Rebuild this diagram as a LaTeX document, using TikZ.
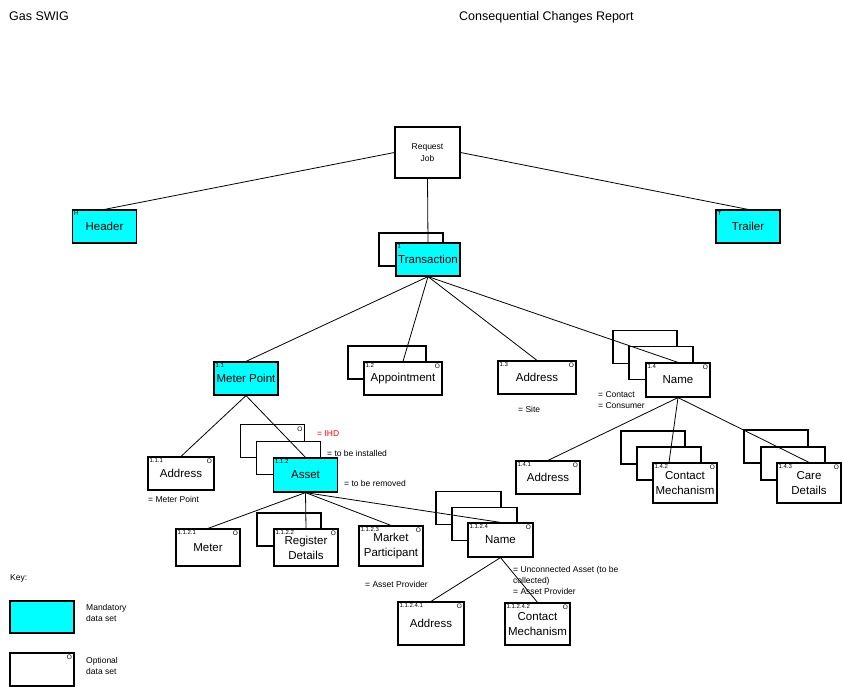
\documentclass[tikz,border=0pt]{standalone}
\usepackage{fontspec}
\setmainfont{Liberation Sans}
\definecolor{aqua}{RGB}{0,255,255}
\tikzstyle{bx}=[draw=black,line width=1.2pt,fill=white,minimum width=64pt,minimum height=33pt,inner sep=1pt,align=center,font=\fontsize{11.5}{15}\selectfont]
\tikzstyle{mand}=[bx,fill=aqua]
\tikzstyle{shd}=[bx]
\tikzstyle{ln}=[line width=.8pt]
\tikzstyle{nt}=[anchor=base west,inner sep=0pt,align=left,font=\fontsize{8.5}{11}\selectfont]
\tikzstyle{idl}=[anchor=north west,inner sep=2pt,font=\fontsize{6}{6}\selectfont]
\tikzstyle{opl}=[anchor=north east,inner sep=2.5pt,font=\fontsize{6.5}{6}\selectfont]
\tikzset{idtag/.style={label={[idl]north west:#1}},optmark/.style={label={[opl]north east:O}}}

\begin{document}
\begin{tikzpicture}[x=1pt,y=-1pt]
\useasboundingbox (0,0) rectangle (843,686);
\node[anchor=base west,inner sep=0pt,font=\fontsize{12.5}{14}\selectfont] (swig) at (9,20) {Gas SWIG};
\node[anchor=base west,inner sep=0pt,font=\fontsize{12.5}{14}\selectfont] (rpt) at (459,20) {Consequential Changes Report};
% top level
\node[bx,minimum width=65pt,minimum height=51pt,font=\fontsize{8.5}{12}\selectfont] (job) at (427.5,152.5) {Request\\Job};
\node[mand,idtag=H] (hdr) at (104.5,226.5) {Header};
\node[mand,idtag=T] (trl) at (748,226.5) {Trailer};
\node[shd] (transS) at (411,249.5) {};
\node[mand,idtag=1] (trans) at (428,259.5) {Transaction};
% 1.x
\node[mand,idtag=1.1] (mp) at (246,378.5) {Meter Point};
\node[shd,minimum width=78pt] (apptS) at (387,362.5) {};
\node[bx,minimum width=78pt,idtag=1.2,optmark] (appt) at (403,378.5) {Appointment};
\node[bx,minimum width=78pt,idtag=1.3,optmark] (site) at (537,377.5) {Address};
\foreach \d/\n in {33/1,17/2} \node[shd] (nameS\n) at (678-\d,380-\d) {};
\node[bx,minimum height=34pt,idtag=1.4,optmark] (name) at (678,380) {Name};
% 1.1.x
\node[bx,minimum width=66pt,idtag=1.1.1,optmark] (mpaddr) at (181,473.5) {Address};
\node[shd,optmark] (assetS1) at (272.5,441) {};
\node[shd] (assetS2) at (288.5,458) {};
\node[mand,minimum height=34pt,idtag=1.1.2] (asset) at (305.5,475) {Asset};
% 1.1.2.x
\node[bx,minimum height=37pt,idtag=1.1.2.1,optmark] (meter) at (208,547.5) {Meter};
\node[shd] (regS) at (289,529.5) {};
\node[bx,minimum height=37pt,idtag=1.1.2.2,optmark] (reg) at (306,547.5) {Register\\Details};
\node[bx,minimum height=40pt,idtag=1.1.2.3,optmark] (mkt) at (391,546) {Market\\Participant};
\foreach \d/\n in {32/1,16/2} \node[shd,minimum width=65pt] (anameS\n) at (500.5-\d,540-\d) {};
\node[bx,minimum width=65pt,minimum height=34pt,idtag=1.1.2.4,optmark] (aname) at (500.5,540) {Name};
% 1.4.x
\node[bx,idtag=1.4.1,optmark] (caddr) at (548,477.5) {Address};
\foreach \d/\n in {32/1,16/2} \node[shd] (cmechS\n) at (685-\d,479.5-\d) {};
\node[bx,minimum height=40pt,idtag=1.4.2,optmark] (cmech) at (685,483) {Contact\\Mechanism};
\foreach \d/\n in {33/1,16/2} \node[shd] (careS\n) at (809-\d,479.5-\d) {};
\node[bx,minimum height=40pt,idtag=1.4.3,optmark] (care) at (809,483) {Care\\Details};
% 1.1.2.4.x
\node[bx,minimum width=66pt,minimum height=43pt,idtag=1.1.2.4.1,optmark] (apaddr) at (431,623.5) {Address};
\node[bx,minimum width=65pt,minimum height=42pt,idtag=1.1.2.4.2,optmark] (apcm) at (537.5,624) {Contact\\Mechanism};
% notes
\node[nt,text=red] (ihd) at (317,436) {= IHD};
\node[nt] (inst) at (327,456) {= to be installed};
\node[nt] (rem) at (344,486) {= to be removed};
\node[nt] (mpnote) at (148,502) {= Meter Point};
\node[nt] (sitenote) at (518,412) {= Site};
\node[nt,anchor=north west] (cc) at (598,391) {= Contact\\= Consumer};
\node[nt] (apnote) at (365,587) {= Asset Provider};
\node[nt,anchor=north west] (ucnote) at (513,566) {= Unconnected Asset (to be\\collected)\\= Asset Provider};
% key
\node[nt] (key) at (10,580) {Key:};
\node[mand,minimum height=32pt] (keym) at (42,617) {};
\node[nt,anchor=north west] (keymt) at (86,604) {Mandatory\\data set};
\node[bx,optmark] (keyo) at (42,669.5) {};
\node[nt,anchor=north west] (keyot) at (86,657) {Optional\\data set};
% connectors
\draw[ln] (job.west) -- (hdr.north);
\draw[ln] (job.east) -- (trl.north);
\draw[ln] (job.south) -- (trans.north);
\foreach \c in {mp,appt,site,name} \draw[ln] (trans.south) -- (\c.north);
\foreach \c in {mpaddr,asset} \draw[ln] (mp.south) -- (\c.north);
\foreach \c in {meter,reg,mkt,aname} \draw[ln] (asset.south) -- (\c.north);
\draw[ln] (name.south) -- (caddr.north);
\draw[ln] (name.south) -- ([xshift=-16pt]cmech.north);
\draw[ln] (name.south) -- (care.north);
\foreach \c in {apaddr,apcm} \draw[ln] (aname.south) -- (\c.north);
\end{tikzpicture}
\end{document}
